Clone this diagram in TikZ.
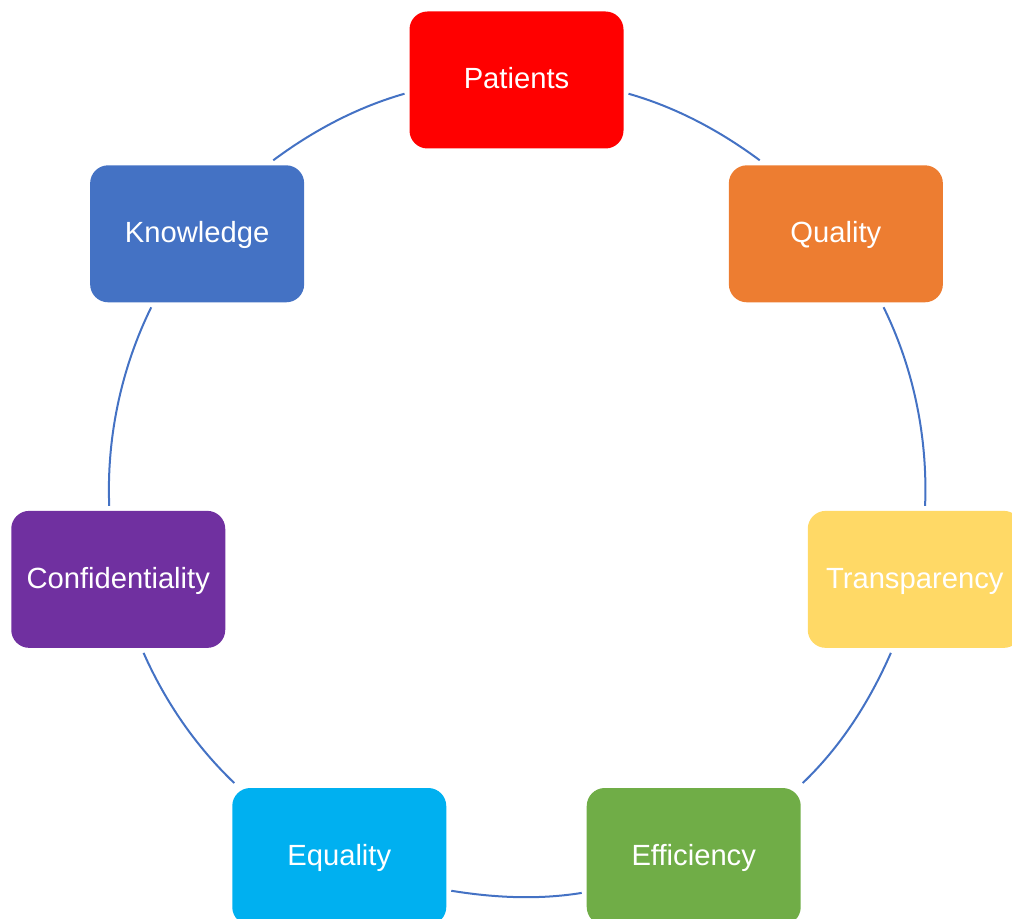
\documentclass[tikz,border=0pt]{standalone}
\usepackage{fontspec}
\setmainfont{Liberation Sans}
\definecolor{patientsred}{HTML}{FF0000}
\definecolor{qualityorange}{HTML}{ED7D31}
\definecolor{transpyellow}{HTML}{FFD966}
\definecolor{efficgreen}{HTML}{70AD47}
\definecolor{equalcyan}{HTML}{00B0F0}
\definecolor{confpurple}{HTML}{7030A0}
\definecolor{knowblue}{HTML}{4472C4}
\definecolor{ringblue}{HTML}{4472C4}

\begin{document}
\begin{tikzpicture}[x=0.5pt,y=0.5pt]
\tikzstyle{bloco}=[rectangle, rounded corners=9pt, minimum width=107pt, minimum height=68.5pt, inner sep=0pt, outer sep=2.5pt, text=white, text height=10.5pt, text depth=1.5pt, font=\fontsize{14.6}{17}\selectfont]
\tikzstyle{arco}=[draw=ringblue, line width=1pt, looseness=0.86]
\useasboundingbox (0,0) rectangle (1012,919);
\coordinate (centro) at (516.5,430.5);
 \path (centro) ++(90:408.5)      node[bloco, fill=patientsred]   (pat) {Patients};
 \path (centro) ++(38.571:408.5)  node[bloco, fill=qualityorange] (qua) {Quality};
 \path (centro) ++(-12.857:408.5) node[bloco, fill=transpyellow]  (tra) {Transparency};
 \path (centro) ++(-64.286:408.5) node[bloco, fill=efficgreen]    (efi) {Efficiency};
 \path (centro) ++(-115.714:408.5) node[bloco, fill=equalcyan]    (equ) {Equality};
 \path (centro) ++(-167.143:408.5) node[bloco, fill=confpurple]   (con) {Confidentiality};
 \path (centro) ++(141.429:408.5) node[bloco, fill=knowblue]      (kno) {Knowledge};
 \draw[arco] (pat.-7.9)   to[out=-15.9, in=143.4]  (qua.136);
 \draw[arco] (qua.-57.6)  to[out=-63.8, in=87.7]   (tra.82.4);
 \draw[arco] (tra.-108.3) to[out=-113.6, in=43.7]  (efi.34.7);
 \draw[arco] (efi.-162.5) to[out=-170.8, in=-9.2]  (equ.-17.5);
 \draw[arco] (equ.145.3)  to[out=136.3, in=-66.1]  (con.-71.7);
 \draw[arco] (con.97.6)   to[out=92.3, in=-116.2]  (kno.-122.4);
 \draw[arco] (kno.44)     to[out=36.7, in=-164.1]  (pat.187.9);
\end{tikzpicture}
\end{document}
